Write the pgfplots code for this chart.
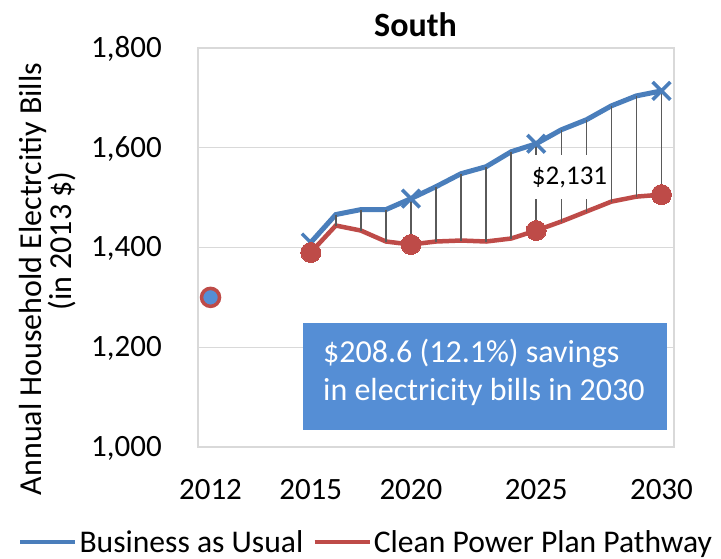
\documentclass[border=0pt]{standalone}
\usepackage{pgfplots}
\usepackage{pgfplotstable}
\pgfplotsset{compat=1.18}
\usepackage{fontspec}
\setmainfont{Carlito}
\definecolor{bau}{RGB}{74,126,187}
\definecolor{cpp}{RGB}{190,75,72}
\definecolor{boxblue}{RGB}{85,142,213}
\definecolor{gridgray}{RGB}{217,217,217}
\definecolor{dropgray}{RGB}{90,90,90}
\pgfplotstableread{
idx bau cpp
4 1410 1390
5 1466 1444
6 1476 1434
7 1476 1412
8 1498 1406
9 1522 1412
10 1548 1414
11 1562 1412
12 1592 1418
13 1608 1434
14 1636 1452
15 1656 1472
16 1684 1492
17 1704 1502
18 1714 1506
}\datatable
\begin{document}
\begin{tikzpicture}
\path[use as bounding box] (-198pt,-112pt) rectangle (523pt,447pt);
\begin{axis}[
  at={(0pt,0pt)}, anchor=south west,
  scale only axis, width=476pt, height=399pt,
  xmin=-0.5, xmax=18.5, ymin=1000, ymax=1800,
  xtick={0,4,8,13,18}, xticklabels={2012,2015,2020,2025,2030},
  ytick={1000,1200,1400,1600,1800},
  ymajorgrids, grid style={color=gridgray, line width=1pt},
  axis line style={color=gridgray, line width=1.2pt},
  major tick length=0pt,
  /pgf/number format/assume math mode=true,
  /pgf/number format/1000 sep={,},
  tick label style={font=\fontsize{31}{31}\selectfont, inner sep=0pt},
  xticklabel style={anchor=base, yshift=-52.5pt},
  yticklabel style={anchor=base east, xshift=-36pt, yshift=-9.5pt},
  clip=false,
  legend style={at={(0.353,-0.238)}, anchor=center, legend columns=2, draw=none, fill=none,
    font=\fontsize{31.6}{32}\selectfont, inner sep=0pt,
    /tikz/every even column/.append style={column sep=7pt}},
  legend cell align=left,
  legend image code/.code={\draw[#1] (0pt,0pt) -- (55pt,0pt);},
]
\addlegendimage{bau, line width=4.5pt}
\addlegendentry{Business as Usual}
\addlegendimage{cpp, line width=4.5pt}
\addlegendentry{Clean Power Plan Pathway}
\addplot[forget plot, bau, line width=5pt, mark=x, mark size=12.5pt,
  mark indices={1,5,10,15}, mark options={line width=3.5pt, solid}] table[x=idx, y=bau] {\datatable};
\addplot[forget plot, cpp, line width=4.5pt, mark=*, mark size=10pt,
  mark indices={1,5,10,15}, mark options={fill=cpp, draw=cpp, line width=0pt}] table[x=idx, y=cpp] {\datatable};
\addplot[forget plot, only marks, mark=*, mark size=9pt, mark options={fill=boxblue, draw=cpp, line width=3.5pt}] coordinates {(0,1300)};
\addplot[forget plot, draw=none, mark=none,
  error bars/.cd, y dir=minus, y explicit, error mark=none,
  error bar style={dropgray, line width=1.5pt}]
  table[x=idx, y=bau, y error minus expr=\thisrow{bau}-\thisrow{cpp}] {\datatable};
\node[fill=white, inner xsep=1pt, inner ysep=0pt, minimum height=44pt, font=\fontsize{27}{27}\selectfont]
  at (axis cs:14.33,1541) {\$2,131};
\end{axis}
\fill[boxblue] (105pt,17pt) rectangle (469pt,124pt);
\node[anchor=base west, inner sep=0pt, white, font=\fontsize{32}{32}\selectfont] at (125pt,84pt) {\$208.6 (12.1\%) savings};
\node[anchor=base west, inner sep=0pt, white, font=\fontsize{32}{32}\selectfont] at (125pt,46.5pt) {in electricity bills in 2030};
\node[anchor=base, inner sep=0pt, font=\fontsize{34}{34}\selectfont\bfseries] at (217.5pt,410pt) {South};
\node[anchor=base, rotate=90, inner sep=0pt, font=\fontsize{32}{32}\selectfont] at (-156pt,168pt) {Annual Household Electrcitiy Bills};
\node[anchor=base, rotate=90, inner sep=0pt, font=\fontsize{32}{32}\selectfont] at (-126pt,206pt) {(in 2013 \$)};
\end{tikzpicture}
\end{document}
